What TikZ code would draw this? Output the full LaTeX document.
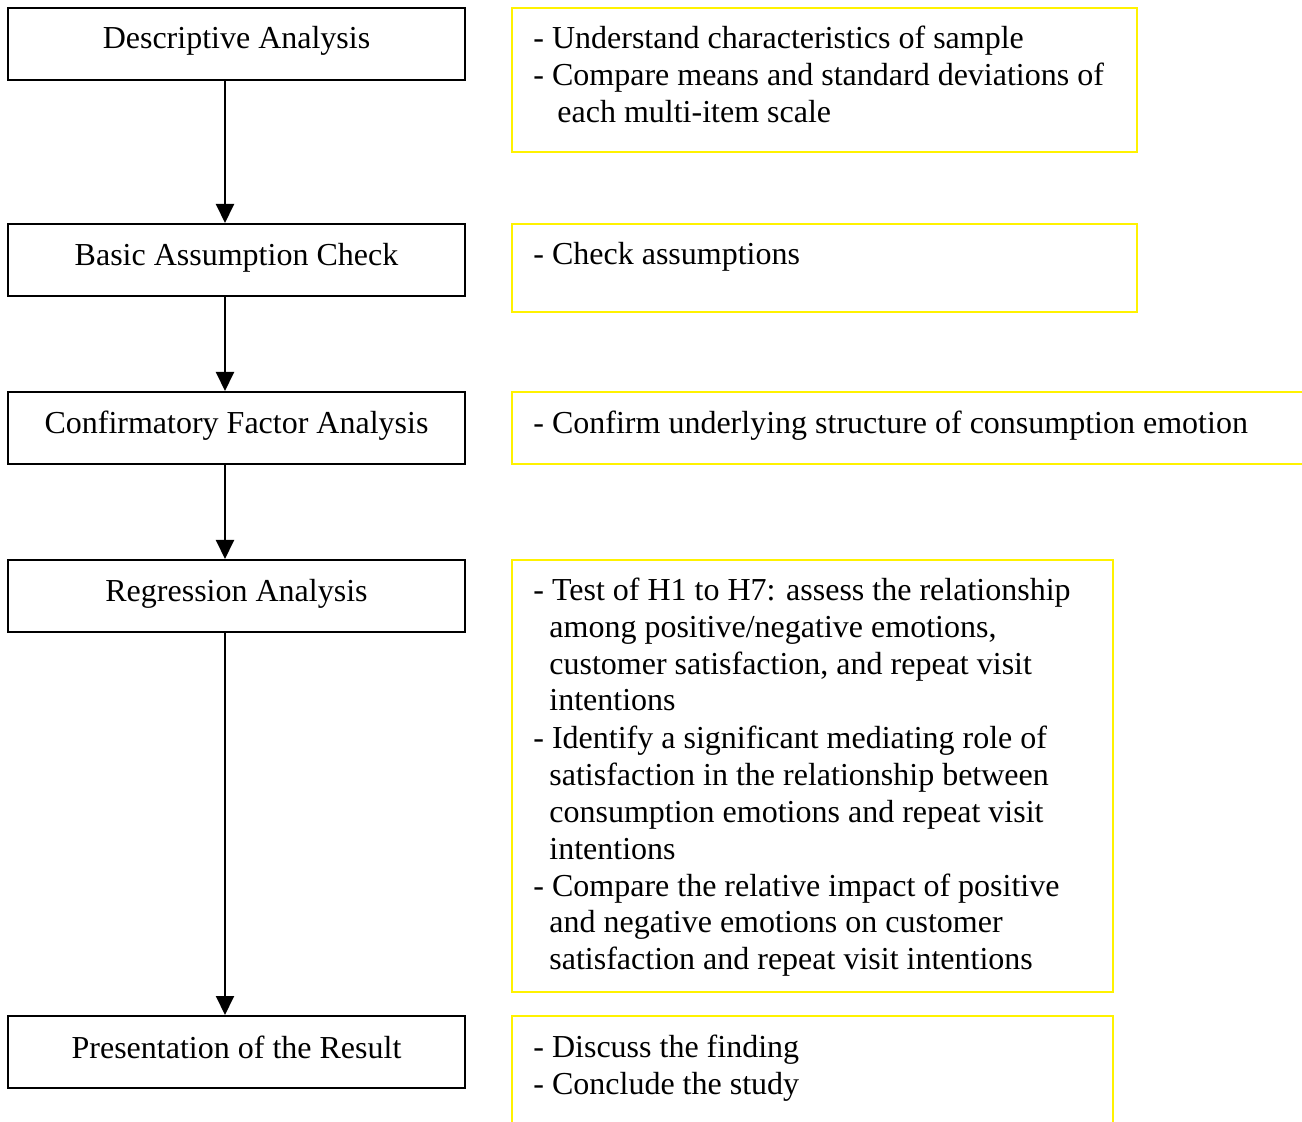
\documentclass[tikz,border=0pt]{standalone}
\usepackage{fontspec}
\setmainfont{Liberation Serif}
\usetikzlibrary{arrows.meta}
\begin{document}
\begin{tikzpicture}[x=0.5pt,y=-0.5pt,
  blk/.style={draw=black,line width=1pt,minimum width=228.5pt,minimum height=36pt,inner sep=0pt},
  ybox/.style={draw=yellow,line width=1.1pt},
  ttl/.style={anchor=base,inner sep=0pt,yshift=-1pt,font=\fontsize{16}{18.5}\selectfont},
  txt/.style={anchor=base west,inner sep=0pt,yshift=-1pt,font=\fontsize{16}{18.5}\selectfont},
  arr/.style={draw=black,line width=1pt,-{Triangle[width=9pt,length=9.5pt]}}]
\useasboundingbox (0,0) rectangle (1302,1122);
\clip (0,0) rectangle (1302,1122);
% left boxes
\node[blk] (d) at (236.5,44) {};
\node[blk] (b) at (236.5,260) {};
\node[blk] (c) at (236.5,428) {};
\node[blk] (r) at (236.5,596) {};
\node[blk] (p) at (236.5,1052) {};
\node[ttl] (dt) at (236.5,47) {Descriptive Analysis};
\node[ttl] (bt) at (236.5,264) {Basic Assumption Check};
\node[ttl] (ct) at (236.5,432) {Confirmatory Factor Analysis};
\node[ttl] (rt) at (236.5,600) {Regression Analysis};
\node[ttl] (pt) at (236.5,1056) {Presentation of the Result};
% arrows
\coordinate (ax) at (225,0);
\draw[arr] (ax |- d.south) -- (ax |- b.north);
\draw[arr] (ax |- b.south) -- (ax |- c.north);
\draw[arr] (ax |- c.south) -- (ax |- r.north);
\draw[arr] (ax |- r.south) -- (ax |- p.north);
% yellow boxes
\draw[ybox] (512,8) rectangle (1137,152);
\draw[ybox] (512,224) rectangle (1137,312);
\draw[ybox] (512,392) rectangle (1310,464);
\draw[ybox] (512,560) rectangle (1113,992);
\draw[ybox] (512,1130) -- (512,1016) -- (1113,1016) -- (1113,1130);
% yellow box texts
\node[txt] (y1a) at (533,47) {- Understand characteristics of sample};
\node[txt] (y1b) at (533,84) {- Compare means and standard deviations of};
\node[txt] (y1c) at (557,121) {each multi-item scale};
\node[txt] (y2a) at (533,263) {- Check assumptions};
\node[txt] (y3a) at (533,432) {- Confirm underlying structure of consumption emotion};
\node[txt] (y4a) at (533,599) {- Test of H1 to H7: assess the relationship};
\node[txt] (y4b) at (549,636) {among positive/negative emotions,};
\node[txt] (y4c) at (549,673) {customer satisfaction, and repeat visit};
\node[txt] (y4d) at (549,709) {intentions};
\node[txt] (y4e) at (533,746) {- Identify a significant mediating role of};
\node[txt] (y4f) at (549,783) {satisfaction in the relationship between};
\node[txt] (y4g) at (549,820) {consumption emotions and repeat visit};
\node[txt] (y4h) at (549,857) {intentions};
\node[txt] (y4i) at (533,894) {- Compare the relative impact of positive};
\node[txt] (y4j) at (549,930) {and negative emotions on customer};
\node[txt] (y4k) at (549,967) {satisfaction and repeat visit intentions};
\node[txt] (y5a) at (533,1055) {- Discuss the finding};
\node[txt] (y5b) at (533,1092) {- Conclude the study};
\end{tikzpicture}
\end{document}
